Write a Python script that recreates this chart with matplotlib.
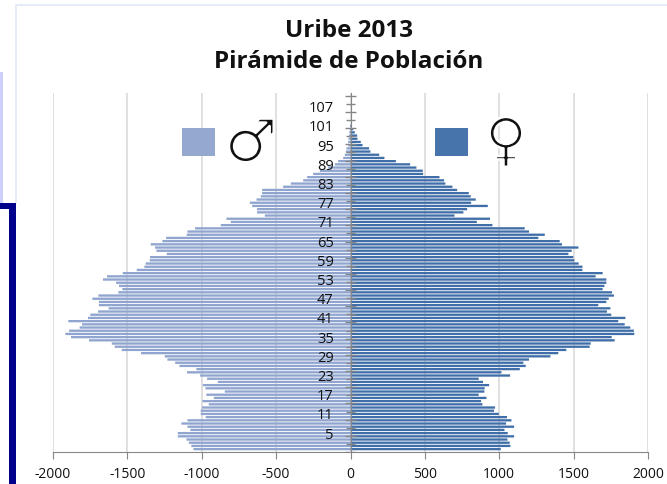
import numpy as np
import matplotlib.pyplot as plt
import matplotlib.patheffects as pe
from matplotlib.patches import Rectangle

plt.rcParams['font.family'] = ['Open Sans', 'DejaVu Sans']
plt.rcParams['axes.unicode_minus'] = False

# edades 0 a 101, el resto queda vacio
hombres = [1056, 1070, 1087, 1103, 1161, 1161, 1076, 1096, 1137, 1096,
           973, 1007, 1007, 998, 953, 995, 919, 969, 845, 975,
           993, 892, 964, 1011, 1099, 1036, 1150, 1179, 1231, 1249,
           1408, 1538, 1585, 1605, 1758, 1879, 1917, 1892, 1821, 1805,
           1897, 1765, 1749, 1697, 1626, 1691, 1691, 1735, 1695, 1561,
           1534, 1556, 1576, 1664, 1637, 1531, 1437, 1386, 1377, 1350,
           1348, 1235, 1305, 1314, 1343, 1265, 1240, 1101, 1096, 1045,
           872, 805, 834, 576, 628, 628, 661, 677, 632, 603,
           594, 594, 453, 401, 318, 291, 251, 206, 150, 105,
           83, 49, 38, 31, 27, 16, 16, 13, 10, 8,
           5, 3]
mujeres = [1010, 1075, 1070, 1055, 1100, 1057, 1035, 1100, 1046, 1082,
           1052, 997, 965, 972, 887, 878, 914, 862, 900, 902,
           932, 891, 862, 1073, 1015, 1138, 1178, 1162, 1200, 1344,
           1397, 1451, 1608, 1615, 1776, 1756, 1908, 1905, 1881, 1843,
           1800, 1848, 1753, 1724, 1747, 1666, 1720, 1736, 1771, 1758,
           1695, 1707, 1720, 1720, 1648, 1695, 1559, 1559, 1534, 1505,
           1498, 1465, 1487, 1532, 1422, 1406, 1263, 1306, 1200, 1171,
           954, 849, 938, 699, 759, 784, 923, 811, 842, 808,
           795, 717, 685, 638, 629, 598, 488, 486, 443, 401,
           305, 228, 193, 134, 125, 81, 69, 47, 45, 29,
           18, 9]
edades = list(range(len(hombres)))
edades_eje = list(range(5, 108, 6))
valores_x = [-2000, -1500, -1000, -500, 0, 500, 1000, 1500, 2000]

W, H = 667, 484


def caja(x0, y0, x1, y1, color):
    # caja en pixeles de la imagen, y hacia abajo
    fig.add_artist(Rectangle((x0 / W, 1 - y1 / H), (x1 - x0) / W, (y1 - y0) / H,
                             transform=fig.transFigure, color=color, lw=0))


fig = plt.figure(figsize=(W / 100, H / 100), dpi=100)

# restos de la diapositiva
caja(0, 72, 3, 203, '#CFCFFF')
caja(0, 203, 16, 209, '#00008B')
caja(9, 203, 16, 484, '#00008B')
caja(15, 4, 667, 5.5, '#E6ECF7')
caja(15, 4, 16.5, 203, '#E6ECF7')

ax = fig.add_axes([53 / W, 1 - 452 / H, 595 / W, 359 / H])
ax.set_xlim(-2000, 2000)
ax.set_ylim(-0.9, 111.3)

ax.grid(axis='x', color='#E0E0E0', linewidth=1.4)
ax.set_axisbelow(True)

barras_h = ax.barh(edades, [-v for v in hombres], height=0.72, color='#8FA4CE')
barras_m = ax.barh(edades, mujeres, height=0.72, color='#3F6EA8')
# sin ajuste al pixel las franjas quedan parejas
for b in list(barras_h) + list(barras_m):
    b.set_snap(False)

for lado in ['top', 'right']:
    ax.spines[lado].set_visible(False)
ax.spines['bottom'].set_color('#868686')
ax.spines['left'].set_position(('data', 0))
ax.spines['left'].set_color('#868686')
ax.spines['left'].set_zorder(5)

ax.set_xticks(valores_x)
ax.tick_params(axis='x', length=5, color='#868686', labelsize=10, pad=6, labelcolor='#111111')
ax.set_yticks(edades_eje)
ax.tick_params(axis='y', length=0, pad=12, labelsize=10.5, labelcolor='#111111')
ax.yaxis.set_zorder(6)

# marcas del eje central, largas y cortas alternadas
marcas = -0.9 + 2.53 * np.arange(45)
ax.hlines(marcas[::2], -40, 40, color='#868686', linewidth=1, zorder=5)
ax.hlines(marcas[1::2], -27, 27, color='#868686', linewidth=1, zorder=5)

fig.text(349 / W, 1 - 31 / H, 'Uribe 2013', ha='center', va='center',
         fontsize=17.5, fontweight='bold', color='#111111')
fig.text(349 / W, 1 - 62 / H, 'Pirámide de Población', ha='center', va='center',
         fontsize=17.5, fontweight='bold', color='#111111')

# leyenda
caja(182, 128, 215, 156, '#95A9D0')
caja(435, 128, 468, 156, '#4674AB')
fino = [pe.Stroke(linewidth=1.9, foreground='white')]
fig.text(251 / W, 1 - 145 / H, '♂', family='DejaVu Sans', fontsize=43, ha='center', va='center',
         color='#111111', path_effects=fino)
fig.text(506 / W, 1 - 143 / H, '♀', family='DejaVu Sans', fontsize=42, ha='center', va='center',
         color='#111111', path_effects=fino)

fig.savefig('out.png', dpi=100)
